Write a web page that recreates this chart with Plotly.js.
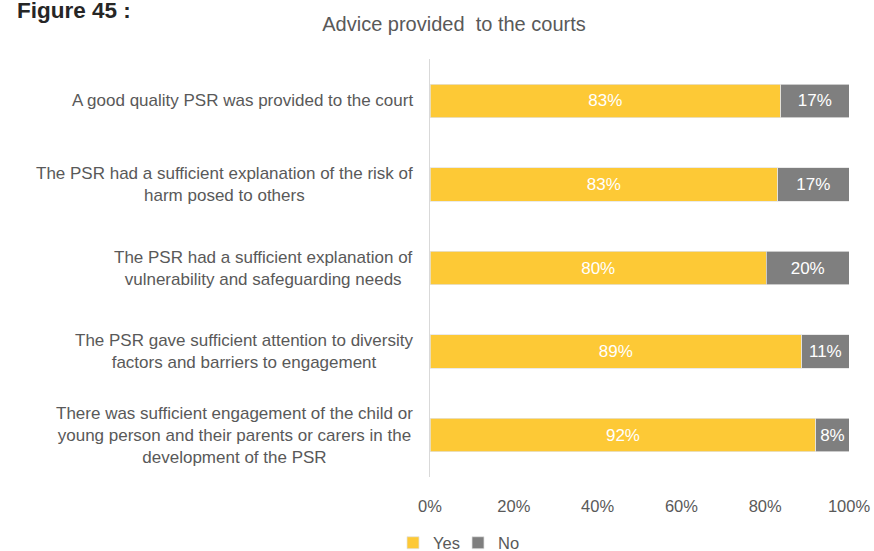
<!DOCTYPE html>
<html>
<head>
<meta charset="utf-8">
<script src="https://cdn.plot.ly/plotly-3.0.1.min.js"></script>
<style>
html,body{margin:0;padding:0;background:#fff;}
#chart{width:874px;height:551px;}
</style>
</head>
<body>
<div id="chart"></div>
<script>
// ---- data ----
var categories = [
  "A good quality PSR was provided to the court",
  "The PSR had a sufficient explanation of the risk of<br>harm posed to others",
  "The PSR had a sufficient explanation of<br>vulnerability and safeguarding needs",
  "The PSR gave sufficient attention to diversity<br>factors and barriers to engagement",
  "There was sufficient engagement of the child or<br>young person and their parents or carers in the<br>development of the PSR"
];
var yesValues = [83.7, 83.0, 80.3, 88.7, 92.1];
var noValues  = [16.3, 17.0, 19.7, 11.3, 7.9];
var yesLabels = ["83%", "83%", "80%", "89%", "92%"];
var noLabels  = ["17%", "17%", "20%", "11%", "8%"];
var xTickVals = [0, 20, 40, 60, 80, 100];
var xTickText = ["0%", "20%", "40%", "60%", "80%", "100%"];
var seriesNames = ["Yes", "No"];
var chartTitle = "Advice provided&nbsp; to the courts";
var figureLabel = "<b>Figure 45 :</b>";

// ---- styles ----
var FONT = "Liberation Sans, Arial, sans-serif";
var TXT = "#595959";

var traces = [
  {
    type: "bar", orientation: "h", name: seriesNames[0],
    y: categories, x: yesValues, text: yesLabels,
    textposition: "inside", insidetextanchor: "middle",
    textfont: {color: "#ffffff", size: 17, family: FONT},
    marker: {color: "#FDC936", line: {color: "#E3E3E3", width: 0.75}},
    hoverinfo: "skip"
  },
  {
    type: "bar", orientation: "h", name: seriesNames[1],
    y: categories, x: noValues, text: noLabels,
    textposition: "inside", insidetextanchor: "middle",
    textfont: {color: "#ffffff", size: 17, family: FONT},
    marker: {color: "#7F7F7F", line: {color: "#E3E3E3", width: 0.75}},
    hoverinfo: "skip"
  }
];

var annotations = categories.map(function (c) {
  return {
    xref: "paper", yref: "y", x: -15 / 419, y: c,
    xanchor: "right", yanchor: "middle", align: "center",
    text: c, showarrow: false,
    font: {family: FONT, size: 17, color: TXT}
  };
});
annotations.push({
  xref: "paper", yref: "paper", x: -415 / 419, y: 1 + (59 - 10) / 418,
  xanchor: "left", yanchor: "middle", showarrow: false,
  text: figureLabel,
  font: {family: FONT, size: 22.5, color: "#262626"}
});

var layout = {
  width: 874, height: 551,
  margin: {l: 430, r: 25, t: 59, b: 74, pad: 0},
  paper_bgcolor: "#ffffff", plot_bgcolor: "#ffffff",
  barmode: "stack", bargap: 0.6,
  showlegend: true,
  title: {
    text: chartTitle, x: 454 / 874, xref: "container", xanchor: "center",
    y: 1 - 24 / 551, yref: "container", yanchor: "middle",
    font: {family: FONT, size: 20, color: TXT}
  },
  xaxis: {
    range: [0, 100], tickvals: xTickVals, ticktext: xTickText,
    showgrid: false, zeroline: false, showline: false,
    ticks: "", ticklabelstandoff: 17,
    tickfont: {family: FONT, size: 16.5, color: TXT},
    fixedrange: true
  },
  yaxis: {
    type: "category", autorange: "reversed",
    showticklabels: false, showgrid: false, zeroline: false,
    showline: true, linecolor: "#D9D9D9", linewidth: 1.5,
    ticks: "", fixedrange: true
  },
  legend: {
    orientation: "h", x: 458 / 874, xref: "container", xanchor: "center",
    y: 1 - 543 / 551, yref: "container", yanchor: "middle",
    font: {family: FONT, size: 16.5, color: TXT},
    itemwidth: 30, traceorder: "normal",
    entrywidth: 20, entrywidthmode: "pixels"
  },
  annotations: annotations
};

Plotly.newPlot("chart", traces, layout, {displayModeBar: false, staticPlot: true});
</script>
</body>
</html>
